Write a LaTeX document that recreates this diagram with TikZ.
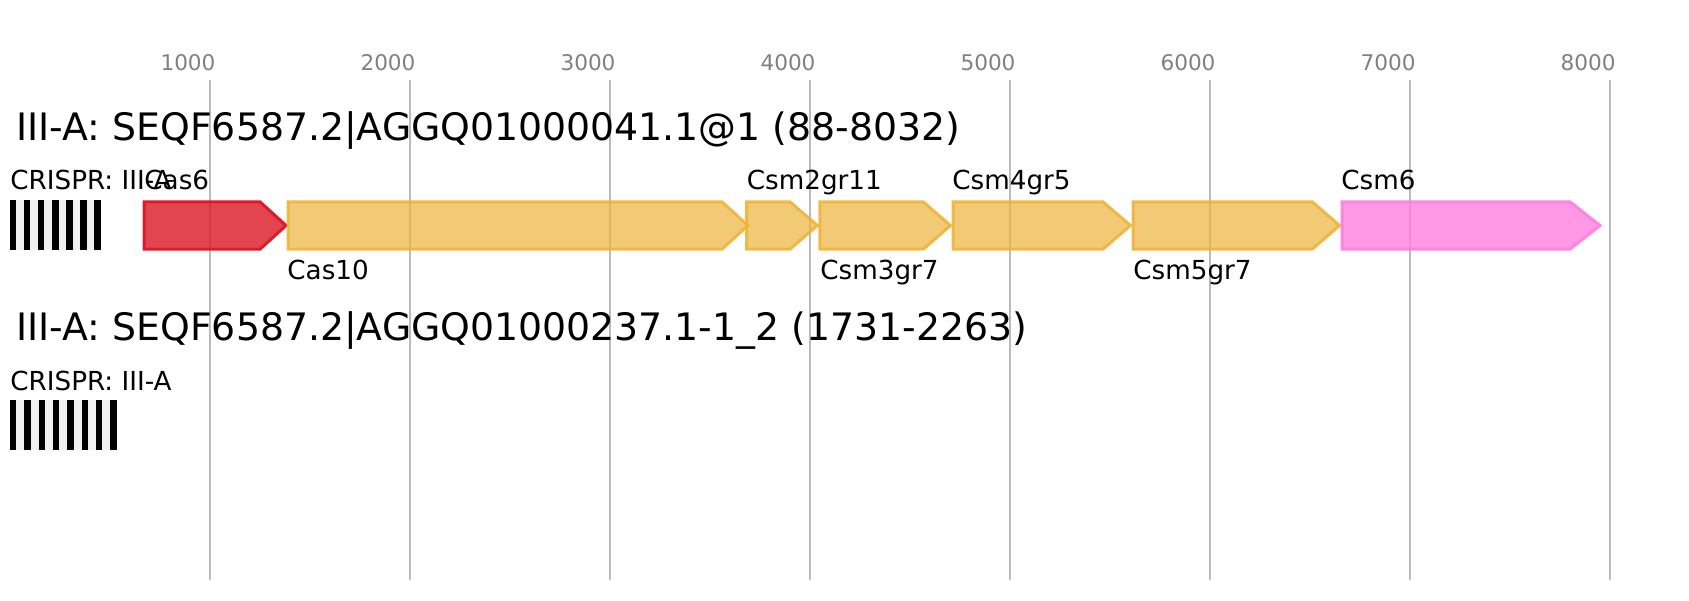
\documentclass[tikz,border=0pt]{standalone}
\usepackage{fontspec}
\setmainfont{DejaVu Sans}
\definecolor{gridgray}{HTML}{BBBBBB}
\definecolor{ticktext}{HTML}{808080}
\definecolor{redc}{HTML}{DC1C28}
\definecolor{yelc}{HTML}{EDB43A}
\definecolor{pinkc}{HTML}{FF80E0}
\definecolor{gapc}{HTML}{F0F0F0}
\begin{document}
\begin{tikzpicture}[x=0.5pt,y=-0.5pt,
  gridline/.style={draw=gridgray,line width=1pt},
  ticklbl/.style={anchor=base,inner sep=0pt,text=ticktext,font=\fontsize{10.8}{12}\selectfont},
  titlelbl/.style={anchor=base west,inner sep=0pt,font=\fontsize{18.9}{22}\selectfont},
  genelbl/.style={anchor=base west,inner sep=0pt,font=\fontsize{13.1}{15}\selectfont},
  genered/.style={draw=redc,fill=redc,fill opacity=0.82,draw opacity=1,line width=1.5pt,line join=miter},
  geneyel/.style={draw=yelc,fill=yelc,fill opacity=0.7,draw opacity=0.9,line width=1.5pt,line join=miter},
  genepink/.style={draw=pinkc,fill=pinkc,fill opacity=0.8,draw opacity=0.95,line width=1.5pt,line join=miter},
]
\useasboundingbox (0,0) rectangle (1689,600);
% grid and ticks
\foreach \i in {1,...,8}{
  \draw[gridline] ({9.5+\i*200},80) -- ({9.5+\i*200},580);
  \node[ticklbl] (tick\i) at ({-12+\i*200},70.5) {\i000};
}
% titles
\node[titlelbl] (title1) at (16,140) {III-A: SEQF6587.2|AGGQ01000041.1@1 (88-8032)};
\node[titlelbl] (title2) at (16,340) {III-A: SEQF6587.2|AGGQ01000237.1-1\_2 (1731-2263)};
% CRISPR arrays
\node[genelbl] (crlbl1) at (10,189) {CRISPR: III-A};
\fill[gapc] (10,200) rectangle (100.7,250);
\foreach \k in {0,...,6}{\fill[black] ({10+\k*14.07},200) rectangle ({16.3+\k*14.07},250);}
\node[genelbl] (crlbl2) at (10,390) {CRISPR: III-A};
\fill[gapc] (10,400) rectangle (116.7,450);
\foreach \k in {0,...,7}{\fill[black] ({10+\k*14.34},400) rectangle ({16.3+\k*14.34},450);}
% genes
\def\gene#1#2#3#4{\path[#1] (#2,201.8) -- (#3,201.8) -- (#4,225.5) -- (#3,249.2) -- (#2,249.2) -- cycle;}
\gene{genered}{144.2}{260}{286}
\gene{geneyel}{288}{722}{748}
\gene{geneyel}{746.5}{790}{817.5}
\gene{geneyel}{819.8}{923.3}{950.5}
\gene{geneyel}{953.2}{1103}{1130.5}
\gene{geneyel}{1133.2}{1312.3}{1339.5}
\gene{genepink}{1342.2}{1570}{1600}
% gene labels
\node[genelbl] (lcas6) at (144,189) {Cas6};
\node[genelbl] (lcas10) at (287,279) {Cas10};
\node[genelbl] (lcsm2) at (746.5,189) {Csm2gr11};
\node[genelbl] (lcsm3) at (820,279) {Csm3gr7};
\node[genelbl] (lcsm4) at (952,189) {Csm4gr5};
\node[genelbl] (lcsm5) at (1133,279) {Csm5gr7};
\node[genelbl] (lcsm6) at (1341,189) {Csm6};
\end{tikzpicture}
\end{document}
